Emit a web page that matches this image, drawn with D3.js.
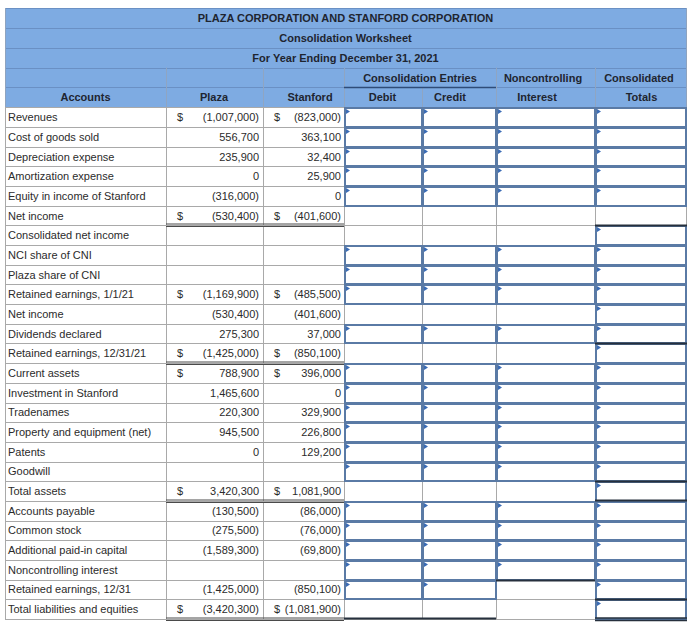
<!DOCTYPE html>
<html><head><meta charset="utf-8">
<script src="https://cdn.jsdelivr.net/npm/d3@7/dist/d3.min.js"></script>
<style>body{margin:0;background:#fff;} svg{display:block;font-family:Arial,"Liberation Sans",sans-serif;}</style>
</head><body><svg id="c" width="700" height="627"></svg>
<script>
// ---------- data ----------
const titleLines = ["PLAZA CORPORATION AND STANFORD CORPORATION", "Consolidation Worksheet", "For Year Ending December 31, 2021"];
const groupHeaders = ["Consolidation Entries", "Noncontrolling", "Consolidated"];
const columnHeaders = ["Accounts", "Plaza", "Stanford", "Debit", "Credit", "Interest", "Totals"];
const accounts = ["Revenues", "Cost of goods sold", "Depreciation expense", "Amortization expense",
  "Equity in income of Stanford", "Net income", "Consolidated net income", "NCI share of CNI",
  "Plaza share of CNI", "Retained earnings, 1/1/21", "Net income", "Dividends declared",
  "Retained earnings, 12/31/21", "Current assets", "Investment in Stanford", "Tradenames",
  "Property and equipment (net)", "Patents", "Goodwill", "Total assets", "Accounts payable",
  "Common stock", "Additional paid-in capital", "Noncontrolling interest", "Retained earnings, 12/31",
  "Total liabilities and equities"];
const plazaValues = [-1007000, 556700, 235900, 0, -316000, -530400, null, null, null, -1169900, -530400, 275300,
  -1425000, 788900, 1465600, 220300, 945500, 0, null, 3420300, -130500, -275500, -1589300, null, -1425000, -3420300];
const stanfordValues = [-823000, 363100, 32400, 25900, 0, -401600, null, null, null, -485500, -401600, 37000,
  -850100, 396000, 0, 329900, 226800, 129200, null, 1081900, -86000, -76000, -69800, null, -850100, -1081900];
const dollarRows = [0, 5, 9, 12, 13, 19, 25];
// input cells for Debit, Credit, Noncontrolling Interest, Consolidated Totals
const inputCells = ["1111", "1111", "1111", "1111", "1111", "0000", "0001", "1111", "1111", "1111", "0001", "1111",
  "0001", "1111", "1111", "1111", "1111", "1111", "1111", "0001", "1111", "1111", "1111", "1111", "1101", "0001"];
const totalRows = [5, 12, 19, 25];
const sumRowsTotals = [6, 12, 19, 25];

// ---------- layout ----------
const svg = d3.select("#c");
const colEdges = [5, 166, 263, 344, 422, 496, 595, 686];
const xe = d3.scaleOrdinal().domain(d3.range(colEdges.length)).range(colEdges);
const yH = d3.scaleBand().domain(d3.range(5)).range([8, 107.3]);
const y = d3.scaleBand().domain(d3.range(accounts.length)).range([107.3, 619]);
const L = xe(0), R = xe(7);
const fmt = d3.format(",");
const fmtVal = v => v == null ? "" : (v < 0 ? "(" + fmt(-v) + ")" : fmt(v));

const headFill = "#7eabe2", headLine = "#6a90c4", gridCol = "#a9a9a9", inputCol = "#5a7aa5", triCol = "#3b6cb5", darkCol = "#26303d";

// header background
svg.append("rect").attr("x", L).attr("y", yH(0)).attr("width", R - L).attr("height", yH.bandwidth() * 5).attr("fill", headFill);
// header horizontal lines
d3.range(6).forEach(i => {
  const yy = Math.round(yH(0) + i * yH.bandwidth()) + 0.5;
  svg.append("line").attr("x1", L).attr("x2", R).attr("y1", yy).attr("y2", yy).attr("stroke", headLine);
});
// header vertical lines
const hv = (x, y1, y2, c) => svg.append("line").attr("x1", x + 0.5).attr("x2", x + 0.5).attr("y1", y1).attr("y2", y2).attr("stroke", c || headLine);
hv(L, yH(0), yH(4) + yH.bandwidth(), "#8ea3bf");
hv(R, yH(0), yH(4) + yH.bandwidth(), "#8ea3bf");
[1, 2, 3, 5, 6].forEach(c => hv(xe(c), yH(3), yH(4) + yH.bandwidth(), "#8fa5c2"));
hv(xe(4), yH(4), yH(4) + yH.bandwidth(), "#8fa5c2");
svg.append("line").attr("x1", xe(3)).attr("x2", xe(5)).attr("y1", Math.round(yH(4)) + 0.5).attr("y2", Math.round(yH(4)) + 0.5)
  .attr("stroke", "#2f4c78").attr("stroke-width", 1.5);

const headText = (t, x, row) => svg.append("text").attr("x", x).attr("y", yH(row) + yH.bandwidth() / 2 + 4)
  .attr("text-anchor", "middle").attr("font-size", 11).attr("font-weight", "bold").attr("fill", "#1e2530").text(t);
titleLines.forEach((t, i) => headText(t, (L + R) / 2, i));
headText(groupHeaders[0], 420, 3);
headText(groupHeaders[1], 543, 3);
headText(groupHeaders[2], 639, 3);
const headerX = [85.5, 214, 310, 382.5, 450, 537, 641.5];
columnHeaders.forEach((t, i) => headText(t, headerX[i], 4));

// ---------- body ----------
const rows = svg.append("g");
accounts.forEach((name, r) => {
  const top = y(r), h = y.bandwidth();
  for (let c = 0; c < 7; c++) {
    rows.append("rect").attr("x", xe(c) + 0.5).attr("y", Math.round(top) + 0.5)
      .attr("width", xe(c + 1) - xe(c)).attr("height", Math.round(top + h) - Math.round(top))
      .attr("fill", "#fff").attr("stroke", gridCol);
  }
});
accounts.forEach((name, r) => {
  const top = y(r), h = y.bandwidth(), cy = top + h / 2 + 4;
  rows.append("text").attr("x", 8).attr("y", cy).attr("font-size", 11).attr("fill", "#2b2b2b").text(name);
  const isDollar = dollarRows.includes(r);
  [[plazaValues[r], 1, 177, 259], [stanfordValues[r], 2, 274, 341]].forEach(([v, c, dx, rx]) => {
    if (v == null) return;
    if (isDollar) rows.append("text").attr("x", dx).attr("y", cy).attr("font-size", 11).attr("fill", "#2b2b2b").text("$");
    rows.append("text").attr("x", rx).attr("y", cy).attr("text-anchor", "end").attr("font-size", 11).attr("fill", "#2b2b2b").text(fmtVal(v));
  });
  if (totalRows.includes(r)) {
    const b = Math.round(top + h);
    [b - 1, b + 1.5].forEach(yy => rows.append("line").attr("x1", xe(1)).attr("x2", xe(3)).attr("y1", yy).attr("y2", yy).attr("stroke", "#4a4a4a"));
  }
});
// input cells
accounts.forEach((name, r) => {
  const top = Math.round(y(r)), bot = Math.round(y(r) + y.bandwidth());
  inputCells[r].split("").forEach((f, k) => {
    if (f !== "1") return;
    const c = 3 + k, x0 = xe(c), x1 = xe(c + 1);
    rows.append("rect").attr("x", x0 + 1).attr("y", top + 1).attr("width", x1 - x0 - 1).attr("height", bot - top - 1)
      .attr("fill", "#fff").attr("stroke", inputCol).attr("stroke-width", 2);
    rows.append("path").attr("d", `M${x0 + 2},${top + 2}L${x0 + 6},${top + 4.5}L${x0 + 2},${top + 7}Z`).attr("fill", triCol);
  });
  if (sumRowsTotals.includes(r)) {
    rows.append("line").attr("x1", xe(6)).attr("x2", xe(7) + 1).attr("y1", top + 0.5).attr("y2", top + 0.5)
      .attr("stroke", darkCol).attr("stroke-width", 2);
  }
});
// dark sum lines under NCI column and the final debit/credit totals
const lastTop = Math.round(y(25) + y.bandwidth());
rows.append("line").attr("x1", xe(5)).attr("x2", xe(6)).attr("y1", Math.round(y(23) + y.bandwidth()) + 0.5).attr("y2", Math.round(y(23) + y.bandwidth()) + 0.5).attr("stroke", darkCol).attr("stroke-width", 2);
rows.append("line").attr("x1", xe(3)).attr("x2", xe(5)).attr("y1", lastTop - 0.5).attr("y2", lastTop - 0.5).attr("stroke", darkCol).attr("stroke-width", 2);
[lastTop - 1, lastTop + 1.5].forEach(yy => rows.append("line").attr("x1", xe(6)).attr("x2", xe(7) + 1).attr("y1", yy).attr("y2", yy).attr("stroke", darkCol).attr("stroke-width", 1.3));
const ta = Math.round(y(19) + y.bandwidth());
rows.append("line").attr("x1", xe(6)).attr("x2", xe(7) + 1).attr("y1", ta - 0.5).attr("y2", ta - 0.5).attr("stroke", darkCol).attr("stroke-width", 2);
</script></body></html>
